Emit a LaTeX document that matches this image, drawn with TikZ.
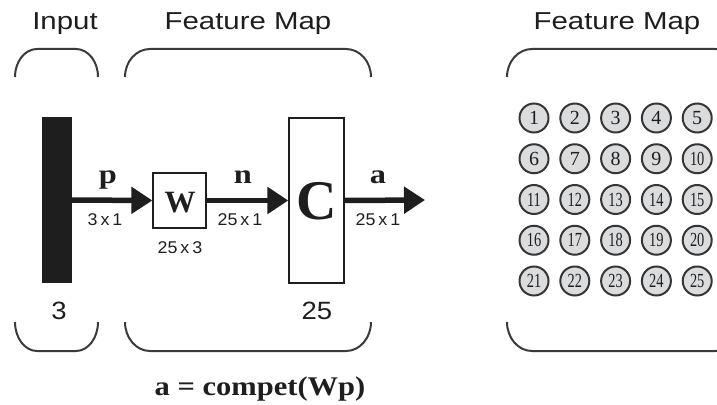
\documentclass[tikz,border=0pt]{standalone}
\usepackage{fontspec}
\setmainfont{Liberation Serif}
\setsansfont{Liberation Sans}
\usetikzlibrary{arrows.meta}
\definecolor{ink}{HTML}{1E1E1E}
\definecolor{bracecol}{HTML}{3A3A3A}
\definecolor{cellfill}{HTML}{DADCDE}
\newcommand\hs[2][1.2]{\scalebox{#1}[1]{#2}}
\begin{document}
\begin{tikzpicture}[x=1pt,y=1pt,
  title/.style={font=\sffamily\fontsize{24.5}{29}\selectfont, text=ink, anchor=base, inner sep=0},
  dimlab/.style={font=\sffamily\fontsize{17}{20}\selectfont, text=ink, anchor=base, inner sep=0},
  sizelab/.style={font=\sffamily\fontsize{25}{30}\selectfont, text=ink, anchor=base, inner sep=0},
  sig/.style={font=\bfseries\fontsize{27}{30}\selectfont, text=ink, anchor=base, inner sep=0},
  brace/.style={line width=2, draw=bracecol},
  layerbox/.style={draw=ink, line width=1.3, fill=white, inner sep=0},
  flow/.style={line width=5.5, draw=ink, -{Triangle[length=21pt,width=26pt]}},
  neuron/.style={circle, draw=ink!90, fill=cellfill, line width=2, minimum size=29, inner sep=0,
    font=\fontsize{20}{22}\selectfont, text=ink}]
\useasboundingbox (0,0) rectangle (717,-404);
\clip (0,0) rectangle (717,-404);

% titles
\node[title] (tIn) at (65,-30) {\hs{Input}};
\node[title] (tFM1) at (248,-30) {\hs{Feature Map}};
\node[title] (tFM2) at (617,-30) {\hs{Feature Map}};

% top brackets
\draw[brace] (15,-77) arc[start angle=180,end angle=90,x radius=22,y radius=28] -- (76,-49)
  arc[start angle=90,end angle=0,x radius=22,y radius=28];
\draw[brace] (125,-77) arc[start angle=180,end angle=90,x radius=25,y radius=28] -- (346,-49)
  arc[start angle=90,end angle=0,x radius=25,y radius=28];
\draw[brace] (507,-77) arc[start angle=180,end angle=90,x radius=25,y radius=28] -- (715,-49)
  arc[start angle=90,end angle=0,x radius=25,y radius=28];
% bottom brackets
\draw[brace] (15,-322) arc[start angle=180,end angle=270,x radius=22,y radius=29] -- (76,-351)
  arc[start angle=270,end angle=360,x radius=22,y radius=29];
\draw[brace] (125,-322) arc[start angle=180,end angle=270,x radius=25,y radius=29] -- (346,-351)
  arc[start angle=270,end angle=360,x radius=25,y radius=29];
\draw[brace] (507,-322) arc[start angle=180,end angle=270,x radius=25,y radius=29] -- (715,-351)
  arc[start angle=270,end angle=360,x radius=25,y radius=29];

% network
\node[fill=ink, minimum width=30, minimum height=166, inner sep=0] (in) at (57,-200) {};
\node[layerbox, minimum width=53, minimum height=55] (W) at (179.5,-200.5) {};
\node[layerbox, minimum width=55, minimum height=165] (C) at (316.5,-200.5) {};
\node[font=\bfseries\fontsize{31}{34}\selectfont, text=ink, anchor=base, inner sep=0] (Wt) at (180,-212) {W};
\node[font=\bfseries\fontsize{56}{60}\selectfont, text=ink, anchor=base, inner sep=0] (Ct) at (317,-219) {C};
\coordinate (out) at (425,-200);

\draw[flow] (in.east) -- (W.west);
\draw[flow] (W.east) -- (C.west);
\draw[flow] (C.east) -- (out);

\node[sig] (p) at (108,-183) {\hs{p}};
\node[sig] (n) at (243,-183) {\hs{n}};
\node[sig] (a) at (378,-183) {\hs{a}};
\node[dimlab] (d1) at (105,-225) {\hs[1.05]{3\,x\,1}};
\node[dimlab] (d2) at (240,-225) {\hs[1.05]{25\,x\,1}};
\node[dimlab] (d3) at (378,-225) {\hs[1.05]{25\,x\,1}};
\node[dimlab] (d4) at (180,-253) {\hs[1.05]{25\,x\,3}};

\node[sizelab] (s1) at (59,-319) {\hs[1.1]{3}};
\node[sizelab] (s2) at (317,-319) {\hs[1.1]{25}};

\node[sig] (eq) at (260,-395) {\hs[1.13]{a = compet(Wp)}};

% neurons
\foreach \r in {0,...,4} {
  \foreach \c in {0,...,4} {
    \pgfmathtruncatemacro\k{\r*5+\c+1}
    \node[neuron] (m\k) at ({534+40.8*\c},{-118-40.75*\r}) {\ifnum\k>9 \scalebox{0.72}[1]{\k}\else\k\fi};
  }
}
\end{tikzpicture}
\end{document}
